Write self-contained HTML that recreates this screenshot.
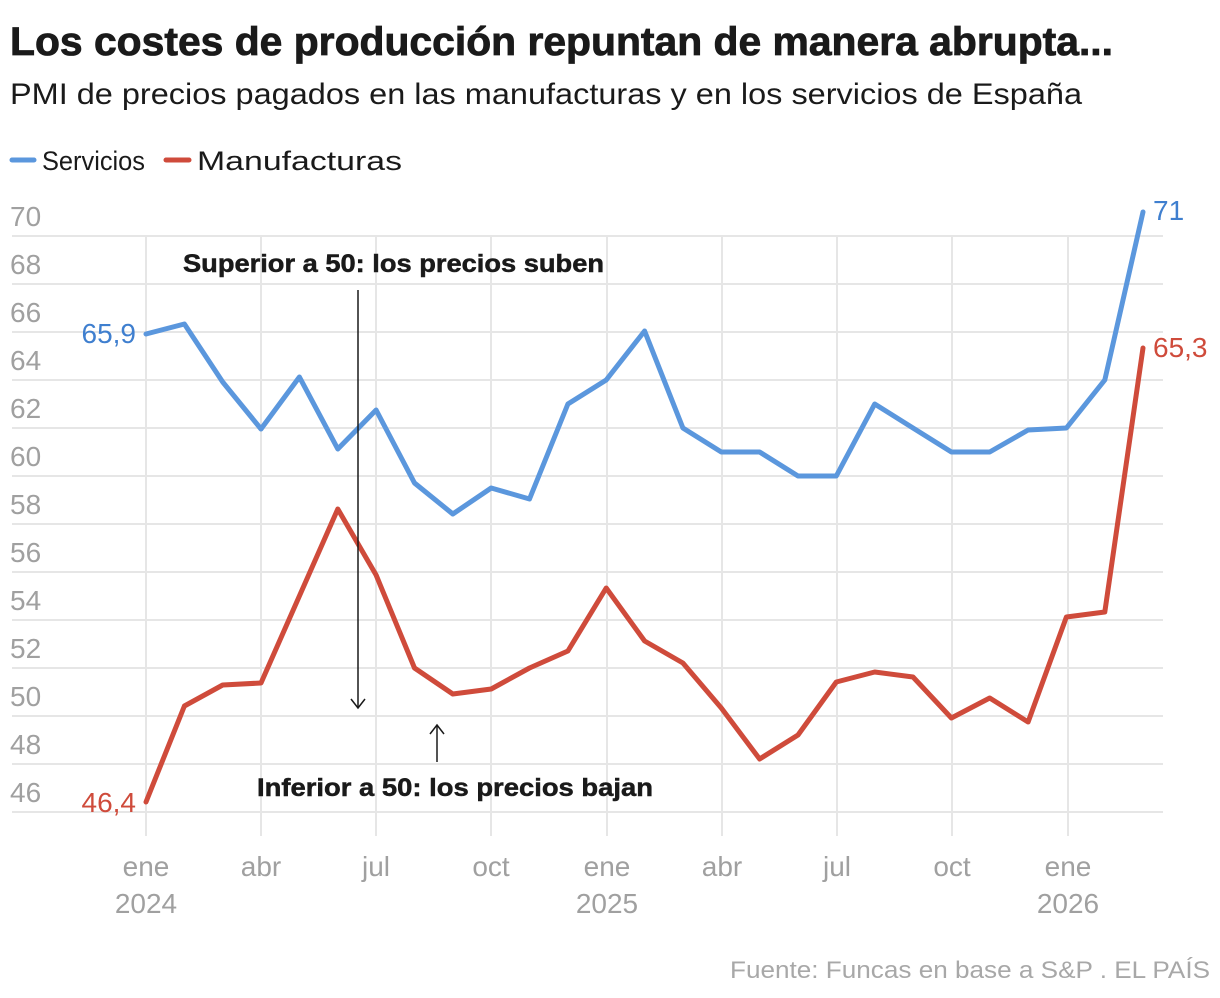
<!DOCTYPE html>
<html><head><meta charset="utf-8"><style>
html,body{margin:0;padding:0;background:#fff;}
svg{display:block;font-family:"Liberation Sans",sans-serif;}
</style></head><body>
<svg width="1220" height="998" viewBox="0 0 1220 998" xmlns="http://www.w3.org/2000/svg">
<text x="10" y="55" font-size="40" font-weight="bold" fill="#1a1a1a" stroke="#1a1a1a" stroke-width="0.8" textLength="1103" lengthAdjust="spacingAndGlyphs">Los costes de producción repuntan de manera abrupta...</text>
<text x="10" y="104" font-size="30" fill="#1a1a1a" textLength="1072" lengthAdjust="spacingAndGlyphs">PMI de precios pagados en las manufacturas y en los servicios de España</text>
<line x1="12" y1="160" x2="34" y2="160" stroke="#5b97dd" stroke-width="5" stroke-linecap="round"/>
<text x="42" y="170" font-size="27" fill="#1a1a1a" textLength="103" lengthAdjust="spacingAndGlyphs">Servicios</text>
<line x1="166" y1="160" x2="189" y2="160" stroke="#cf4b3b" stroke-width="5" stroke-linecap="round"/>
<text x="197" y="170" font-size="27" fill="#1a1a1a" textLength="205" lengthAdjust="spacingAndGlyphs">Manufacturas</text>
<g stroke="#e6e6e6" stroke-width="2">
<line x1="12" y1="236" x2="1163" y2="236"/><line x1="12" y1="284" x2="1163" y2="284"/>
<line x1="12" y1="332" x2="1163" y2="332"/><line x1="12" y1="380" x2="1163" y2="380"/>
<line x1="12" y1="428" x2="1163" y2="428"/><line x1="12" y1="476" x2="1163" y2="476"/>
<line x1="12" y1="524" x2="1163" y2="524"/><line x1="12" y1="572" x2="1163" y2="572"/>
<line x1="12" y1="620" x2="1163" y2="620"/><line x1="12" y1="668" x2="1163" y2="668"/>
<line x1="12" y1="716" x2="1163" y2="716"/><line x1="12" y1="764" x2="1163" y2="764"/>
<line x1="12" y1="812" x2="1163" y2="812"/>
<line x1="146" y1="236" x2="146" y2="836"/><line x1="261" y1="236" x2="261" y2="836"/>
<line x1="376" y1="236" x2="376" y2="836"/><line x1="491" y1="236" x2="491" y2="836"/>
<line x1="607" y1="236" x2="607" y2="836"/><line x1="722" y1="236" x2="722" y2="836"/>
<line x1="837" y1="236" x2="837" y2="836"/><line x1="952" y1="236" x2="952" y2="836"/>
<line x1="1068" y1="236" x2="1068" y2="836"/>
</g>
<g font-size="28" fill="#a0a0a0">
<text x="10" y="226">70</text><text x="10" y="274">68</text><text x="10" y="322">66</text>
<text x="10" y="370">64</text><text x="10" y="418">62</text><text x="10" y="466">60</text>
<text x="10" y="514">58</text><text x="10" y="562">56</text><text x="10" y="610">54</text>
<text x="10" y="658">52</text><text x="10" y="706">50</text><text x="10" y="754">48</text>
<text x="10" y="802">46</text>
</g>
<g font-size="28" fill="#a0a0a0" text-anchor="middle">
<text x="146" y="876">ene</text><text x="146" y="913">2024</text>
<text x="261" y="876">abr</text><text x="376" y="876">jul</text><text x="491" y="876">oct</text>
<text x="607" y="876">ene</text><text x="607" y="913">2025</text>
<text x="722" y="876">abr</text><text x="837" y="876">jul</text><text x="952" y="876">oct</text>
<text x="1068" y="876">ene</text><text x="1068" y="913">2026</text>
</g>
<polyline fill="none" stroke="#5b97dd" stroke-width="5" stroke-linejoin="round" stroke-linecap="round" points="146,334 184.4,324 222.7,382 261,429 299.4,377 337.8,449 376.1,410 414.5,483 452.8,514 491.2,488 529.5,499 567.9,404 606.2,380 644.6,331 682.9,428 721.3,452 759.6,452 798,476 836.3,476 874.7,404 913,428 951.4,452 989.7,452 1028.1,430 1066.4,428 1104.8,380 1143,212"/>
<polyline fill="none" stroke="#cf4b3b" stroke-width="5" stroke-linejoin="round" stroke-linecap="round" points="146,802 184.4,706 222.7,685 261,683 299.4,596 337.8,509 376.1,575 414.5,668 452.8,694 491.2,689 529.5,668 567.9,651 606.2,588 644.6,641 682.9,663 721.3,708 759.6,759 798,735 836.3,682 874.7,672 913,677 951.4,718 989.7,698 1028.1,722 1066.4,617 1104.8,612 1143,348"/>
<text x="136" y="343" font-size="28" fill="#3f7fcf" text-anchor="end">65,9</text>
<text x="136" y="812" font-size="28" fill="#cf4b3b" text-anchor="end">46,4</text>
<text x="1153" y="220" font-size="28" fill="#3f7fcf">71</text>
<text x="1153" y="357" font-size="28" fill="#cf4b3b">65,3</text>
<text x="183" y="272" font-size="25" font-weight="bold" fill="#1a1a1a" stroke="#1a1a1a" stroke-width="0.5" textLength="421" lengthAdjust="spacingAndGlyphs">Superior a 50: los precios suben</text>
<line x1="358" y1="290" x2="358" y2="707" stroke="#1a1a1a" stroke-width="1.5"/>
<polyline points="351,699 358,708 365,699" fill="none" stroke="#1a1a1a" stroke-width="1.5"/>
<text x="257" y="796" font-size="25" font-weight="bold" fill="#1a1a1a" stroke="#1a1a1a" stroke-width="0.5" textLength="396" lengthAdjust="spacingAndGlyphs">Inferior a 50: los precios bajan</text>
<line x1="437" y1="762" x2="437" y2="726" stroke="#1a1a1a" stroke-width="1.5"/>
<polyline points="430,734 437,725 444,734" fill="none" stroke="#1a1a1a" stroke-width="1.5"/>
<text x="1210" y="978" font-size="24" fill="#a8a8a8" text-anchor="end" textLength="480" lengthAdjust="spacingAndGlyphs">Fuente: Funcas en base a S&amp;P . EL PAÍS</text>
</svg>
</body></html>
